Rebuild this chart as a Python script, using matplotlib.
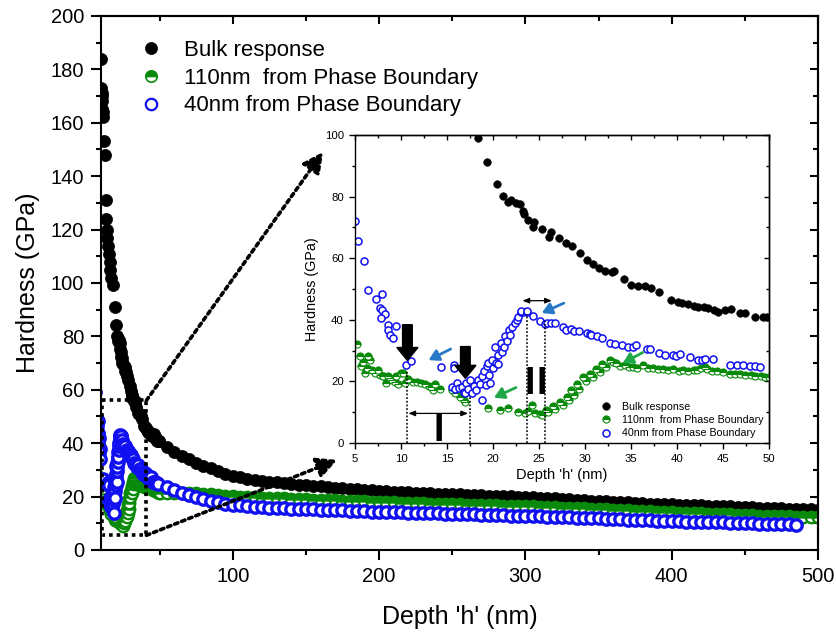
import numpy as np
import matplotlib.pyplot as plt
from matplotlib.ticker import MultipleLocator

plt.rcParams['font.family'] = ['Liberation Sans', 'DejaVu Sans']

# ---- indentation data: shallow part (also shown in the inset) ----
bulk_depth = [10.0, 10.2, 10.4, 10.6, 10.8, 11.0, 11.3, 11.6, 12.3, 12.6, 13.3, 13.7,
              14.0, 14.4, 14.8, 15.3, 15.8, 16.4, 17.0, 18.4, 19.4, 20.4, 21.1, 21.6,
              22.0, 22.5, 22.9, 23.3, 23.4, 23.8, 24.3, 24.5, 25.3, 26.1, 26.3, 27.2,
              27.9, 28.6, 29.5, 30.2, 30.9, 31.5, 32.2, 32.9, 33.2, 34.2, 35.0, 35.8,
              36.5, 37.2, 38.0, 39.4, 40.1, 40.6, 41.2, 41.8, 42.3, 42.9, 43.4, 44.0,
              44.5, 45.2, 45.9, 46.8, 47.4, 48.5, 49.3, 49.8]
bulk_hard = [184, 173, 171, 168, 170, 165, 162, 164, 153, 148, 131, 124,
             120, 117, 114, 111, 108, 105, 102, 99.1, 91.1, 84.1, 80.2, 78.4,
             78.8, 77.9, 77.6, 75.3, 74.2, 72.4, 70.2, 71.8, 69.5, 67.0, 68.4, 66.6,
             65.0, 63.8, 61.6, 59.5, 58.1, 56.8, 55.9, 55.5, 55.7, 53.4, 51.3, 51.1,
             51.1, 50.2, 49.1, 46.4, 45.9, 45.6, 45.0, 44.6, 44.3, 44.0, 43.7, 43.2,
             42.6, 43.2, 43.4, 42.1, 42.1, 40.8, 40.9, 40.8]

pb110_depth = [5.2, 5.5, 5.7, 5.9, 6.1, 6.3, 6.45, 6.6, 6.8, 7.2, 7.5, 7.7, 8.0, 8.1,
               8.4, 8.6, 8.8, 9.0, 9.3, 9.5, 9.7, 10.0, 10.25, 10.4, 10.8, 11.3, 11.7,
               12.2, 12.6, 13.0, 13.3, 13.5, 13.7, 14.2, 15.5, 15.9, 16.4, 16.8, 17.0,
               19.5, 20.8, 21.6, 22.7, 23.5, 23.8, 24.2, 24.6, 25.1, 25.3, 25.8, 26.0,
               26.5, 26.7, 27.3, 27.6, 28.0, 28.3, 28.5, 28.8, 29.1, 29.4, 29.8, 30.1,
               30.5, 30.9, 31.2, 31.6, 31.9, 32.3, 32.7, 33.0, 33.4, 33.8, 34.3, 34.8,
               35.2, 35.7, 36.3, 36.8, 37.4, 37.9, 38.5, 39.0, 39.6, 40.2, 40.7, 41.2,
               41.8, 42.2, 42.6, 43.0, 43.3, 43.8, 44.4, 45.0, 45.8, 46.3, 46.9, 47.4,
               48.0, 48.5, 49.1, 49.6, 50.0]
pb110_hard = [32.1, 28.3, 24.9, 26.4, 22.6, 24.3, 28.4, 27.0, 23.7, 22.8, 23.6, 22.0, 21.7, 21.6,
              19.4, 21.6, 21.2, 20.4, 19.9, 21.7, 19.0, 22.7, 22.6, 19.4, 20.9, 19.9, 19.9,
              19.4, 19.0, 18.6, 18.3, 17.2, 19.0, 17.4, 17.2, 16.1, 15.0, 14.0, 13.4,
              11.3, 10.7, 11.5, 10.1, 9.6, 10.4, 12.3, 9.6, 9.3, 9.0, 10.7, 10.0,
              11.9, 11.0, 13.3, 12.2, 14.9, 13.8, 17.1, 15.5, 19.2, 17.5, 21.4, 20.0,
              22.5, 21.5, 24.1, 23.0, 25.5, 24.8, 26.8, 26.2, 25.9, 25.0, 25.2, 24.8,
              24.6, 24.5, 25.2, 24.5, 24.4, 24.0, 24.1, 23.8, 24.1, 23.5, 23.6, 23.3,
              23.6, 23.8, 24.4, 24.6, 24.1, 23.5, 23.4, 22.9, 22.5, 22.3, 22.3, 22.0,
              22.0, 21.8, 21.6, 21.3, 21.4]

pb40_depth = [5.0, 5.3, 6.0, 6.45, 7.25, 7.9, 7.7, 7.9, 8.3, 7.85, 8.6, 9.5, 8.6, 8.8,
              9.1, 10.6, 11.05, 14.35, 15.76, 15.76, 15.5, 15.9, 16.05, 16.3, 16.6, 16.8,
              17.0, 17.1, 17.3, 17.5, 17.7, 17.9, 18.2, 18.4, 18.6, 18.8, 18.8, 19.0,
              19.2, 19.3, 19.5, 19.6, 19.7, 19.9, 20.0, 20.2, 20.3, 20.5, 20.6, 20.9,
              21.0, 21.2, 21.3, 21.5, 21.7, 21.9, 22.1, 22.4, 22.6, 22.75, 23.0, 23.3,
              23.1, 23.65, 23.7, 24.3, 25.1, 25.7, 25.9, 26.3, 26.7, 27.6, 27.9, 28.5,
              28.8, 29.4, 30.2, 30.5, 30.7, 31.3, 31.8, 32.7, 33.3, 34.0, 34.7, 35.2,
              35.6, 36.7, 37.1, 38.0, 38.7, 39.6, 39.9, 40.3, 41.4, 42.3, 42.7, 43.0,
              43.9, 45.8, 46.5, 47.2, 47.9, 48.5, 49.0]
pb40_hard = [72.0, 65.5, 59.1, 49.7, 46.6, 48.4, 43.7, 43.2, 41.9, 40.5, 38.3, 38.0, 36.7, 35.0,
             34.0, 25.3, 26.6, 24.6, 25.3, 24.2, 18.3, 17.5, 19.4, 18.0, 18.3, 16.6,
             16.1, 19.4, 17.5, 20.5, 16.1, 18.5, 17.2, 20.5, 19.2, 14.0, 21.6, 23.5,
             18.8, 25.0, 25.9, 22.0, 19.5, 27.0, 24.5, 31.3, 26.0, 28.5, 25.5, 32.4,
             29.5, 31.0, 34.6, 33.0, 36.7, 35.0, 37.5, 38.8, 40.0, 41.0, 42.5, 42.6,
             43.0, 42.6, 42.7, 41.1, 39.6, 38.7, 38.9, 38.9, 39.0, 37.6, 36.8, 37.0,
             36.2, 36.3, 35.6, 35.3, 35.1, 34.6, 34.0, 32.6, 32.2, 31.9, 31.0, 31.2,
             31.9, 30.4, 30.4, 29.1, 28.6, 28.6, 28.2, 28.8, 27.9, 27.0, 26.8, 27.2,
             27.2, 25.3, 25.3, 25.3, 25.0, 25.0, 24.8]

# ---- deep part, 55-500 nm ----
tail_depth = [55, 60, 65, 70, 75, 80, 85, 90, 95, 100, 105, 110, 115, 120, 125, 130, 135,
              140, 145, 150, 155, 160, 165, 170, 175, 180, 185, 190, 195, 200, 205, 210,
              215, 220, 225, 230, 235, 240, 245, 250, 255, 260, 265, 270, 275, 280, 285,
              290, 295, 300, 305, 310, 315, 320, 325, 330, 335, 340, 345, 350, 355, 360,
              365, 370, 375, 380, 385, 390, 395, 400, 405, 410, 415, 420, 425, 430, 435,
              440, 445, 450, 455, 460, 465, 470, 475, 480, 485, 490, 495, 500]
bulk_tail = [38.6, 36.7, 35.2, 33.9, 32.7, 31.6, 30.6, 29.6, 28.6, 27.8,
             27.2, 26.7, 26.3, 25.9, 25.6, 25.3, 25.0, 24.7, 24.5, 24.2,
             24.0, 23.8, 23.6, 23.4, 23.2, 23.0, 22.8, 22.6, 22.4, 22.2,
             22.0, 21.9, 21.7, 21.6, 21.5, 21.3, 21.2, 21.1, 21.0, 20.9,
             20.8, 20.7, 20.6, 20.5, 20.4, 20.3, 20.2, 20.1, 20.0, 19.9,
             19.7, 19.6, 19.4, 19.3, 19.1, 19.0, 18.8, 18.7, 18.5, 18.4,
             18.2, 18.1, 17.9, 17.8, 17.6, 17.5, 17.4, 17.3, 17.2, 17.1,
             17.0, 16.9, 16.8, 16.7, 16.6, 16.5, 16.4, 16.3, 16.2, 16.1,
             16.0, 15.9, 15.8, 15.7, 15.6, 15.5, 15.4, 15.3, 15.2, 15.1]
pb110_tail = [21.5, 21.5, 21.4, 21.3, 21.2, 21.0, 20.8, 20.6, 20.4, 20.2,
              20.0, 19.9, 19.7, 19.6, 19.5, 19.4, 19.3, 19.2, 19.1, 19.0,
              18.9, 18.8, 18.7, 18.6, 18.5, 18.4, 18.3, 18.2, 18.1, 18.0,
              17.9, 17.8, 17.7, 17.7, 17.6, 17.5, 17.4, 17.3, 17.2, 17.2,
              17.1, 17.0, 16.9, 16.9, 16.8, 16.7, 16.6, 16.6, 16.5, 16.4,
              16.3, 16.2, 16.1, 16.0, 15.9, 15.8, 15.7, 15.6, 15.5, 15.4,
              15.2, 15.1, 15.0, 14.9, 14.7, 14.6, 14.5, 14.4, 14.2, 14.1,
              14.0, 13.9, 13.8, 13.7, 13.6, 13.5, 13.4, 13.3, 13.2, 13.1,
              13.0, 12.9, 12.8, 12.8, 12.7, 12.6, 12.5, 12.5, 12.4, 12.3]
pb40_tail = [23.6, 22.5, 21.5, 20.6, 19.8, 19.1, 18.5, 17.9, 17.4, 17.0,
             16.7, 16.4, 16.2, 16.0, 15.8, 15.7, 15.6, 15.5, 15.4, 15.3,
             15.2, 15.1, 15.0, 14.9, 14.8, 14.7, 14.6, 14.5, 14.4, 14.3,
             14.2, 14.2, 14.1, 14.0, 13.9, 13.8, 13.8, 13.7, 13.6, 13.5,
             13.5, 13.4, 13.3, 13.2, 13.2, 13.1, 13.0, 12.9, 12.9, 12.8,
             12.7, 12.6, 12.5, 12.4, 12.3, 12.2, 12.1, 12.0, 11.9, 11.8,
             11.7, 11.6, 11.5, 11.4, 11.3, 11.2, 11.1, 11.0, 10.9, 10.8,
             10.7, 10.6, 10.6, 10.5, 10.4, 10.3, 10.3, 10.2, 10.1, 10.0,
             10.0, 9.9, 9.8, 9.7, 9.7, 9.6, 9.5]

labels = ["Bulk response", "110nm  from Phase Boundary", "40nm from Phase Boundary"]
GREEN = "#0a8a0a"
BLUE = "#1010f0"

series = [
    (bulk_depth + tail_depth, bulk_hard + bulk_tail),
    (pb110_depth + tail_depth, pb110_hard + pb110_tail),
    (pb40_depth + tail_depth[:len(pb40_tail)], pb40_hard + pb40_tail),
]


def draw_series(ax, big):
    s = 1.0 if big else 0.62
    (xb, yb), (xg, yg), (xo, yo) = series
    ax.plot(xb, yb, ls="none", marker="o", ms=8.7 * s, mfc="k", mec="k", mew=0.5,
            label=labels[0])
    ax.plot(xg, yg, ls="none", marker="o", ms=8.2 * s, fillstyle="top", mfc=GREEN,
            mfcalt="white", mec=GREEN, mew=(1.7 if big else 0.8), label=labels[1])
    ax.plot(xo, yo, ls="none", marker="o", ms=8.2 * s, mfc="white", mec=BLUE,
            mew=(2.4 if big else 1.1), label=labels[2])


def style_axes(ax, xmaj, xmin, ymaj, ymin, lw, size, ln, pad):
    ax.xaxis.set_major_locator(MultipleLocator(xmaj))
    ax.xaxis.set_minor_locator(MultipleLocator(xmin))
    ax.yaxis.set_major_locator(MultipleLocator(ymaj))
    ax.yaxis.set_minor_locator(MultipleLocator(ymin))
    for sp in ax.spines.values():
        sp.set_linewidth(lw)
    ax.tick_params(which="major", direction="out", length=ln, width=lw,
                   labelsize=size, pad=pad)
    ax.tick_params(which="minor", direction="out", length=ln * 0.55, width=lw)
    # mirrored ticks on the top and right, pointing inward
    top = ax.secondary_xaxis("top")
    right = ax.secondary_yaxis("right")
    top.xaxis.set_major_locator(MultipleLocator(xmaj))
    top.xaxis.set_minor_locator(MultipleLocator(xmin))
    right.yaxis.set_major_locator(MultipleLocator(ymaj))
    right.yaxis.set_minor_locator(MultipleLocator(ymin))
    for sec in (top, right):
        sec.tick_params(which="major", direction="in", length=ln * 0.85, width=lw,
                        labeltop=False, labelright=False)
        sec.tick_params(which="minor", direction="in", length=ln * 0.55, width=lw)
        for sp in sec.spines.values():
            sp.set_linewidth(lw)


fig = plt.figure(figsize=(8.37, 6.34), dpi=100)

# ---- main panel ----
ax = fig.add_axes([0.1207, 0.1325, 0.8566, 0.8423])
draw_series(ax, True)
ax.set_xlim(10, 500)
ax.set_ylim(0, 200)
style_axes(ax, 100, 50, 20, 10, 1.5, 14.5, 7, 5)
ax.set_xlabel("Depth 'h' (nm)", fontsize=18, labelpad=14)
ax.set_ylabel("Hardness (GPa)", fontsize=18, labelpad=8)
leg = ax.legend(loc="upper left", bbox_to_anchor=(0.054, 0.955), frameon=False,
                fontsize=16, handlelength=1.0, handletextpad=1.0, labelspacing=0.3,
                borderpad=0, borderaxespad=0)
leg.legend_handles[2].set_markeredgewidth(1.6)
leg.legend_handles[1].set_markeredgewidth(1.2)

# dotted box around the shallow region
box_x0, box_x1, box_y0, box_y1 = 11.0, 41.0, 5.5, 56.0
dots = (0, (1, 1.1))
ax.plot([box_x0, box_x1, box_x1, box_x0, box_x0],
        [box_y1, box_y1, box_y0, box_y0, box_y1],
        color="k", lw=2.6, ls=dots, zorder=5, clip_on=False)

# ---- inset ----
axi = fig.add_axes([0.4241, 0.3013, 0.4946, 0.4858])
draw_series(axi, False)
axi.set_xlim(5, 50)
axi.set_ylim(0, 100)
style_axes(axi, 5, 2.5, 20, 10, 1.0, 8.2, 4.5, 3.5)
axi.set_xlabel("Depth 'h' (nm)", fontsize=10.5, labelpad=3)
axi.set_ylabel("Hardness (GPa)", fontsize=10.3, labelpad=4)
axi.legend(loc="upper left", bbox_to_anchor=(0.593, 0.133), frameon=False,
           fontsize=7.7, handlelength=1.0, handletextpad=1.0, labelspacing=0.3,
           borderpad=0, borderaxespad=0)

# zoom arrows from the box to the inset
for start, end in (((box_x1, box_y1), (-0.077, 0.945)),
                   ((box_x1, box_y0), (-0.043, -0.055))):
    ax.annotate("", xy=end, xycoords=axi.transAxes, xytext=start, textcoords="data",
                arrowprops=dict(arrowstyle="-|>,head_length=0.55,head_width=0.28",
                                mutation_scale=22, lw=2.6, ls=dots, color="k",
                                fc="k", shrinkA=0, shrinkB=0), zorder=5)

# boundaries of the pop-in regions
for x, ytop in ((10.65, 23.0), (17.55, 15.5), (23.75, 42.0), (25.7, 39.5)):
    axi.plot([x, x], [0, ytop], color="k", lw=1.1, ls=(0, (1.2, 1.2)), zorder=4)

for x0, x1, y in ((10.8, 17.3, 9.6), (23.2, 26.4, 46.2)):
    axi.annotate("", xy=(x1, y), xytext=(x0, y),
                 arrowprops=dict(arrowstyle="<|-|>,head_length=0.5,head_width=0.2",
                                 lw=0.9, color="k", shrinkA=0, shrinkB=0,
                                 mutation_scale=8))

# thick markers of the pop-in events
for x, ytail, ytip in ((10.7, 38.4, 26.8), (17.0, 31.3, 21.0)):
    axi.arrow(x, ytail, 0, ytip - ytail, width=1.05, head_width=2.3, head_length=4.2,
              length_includes_head=True, fc="k", ec="k", zorder=6)

for (x0, y0, x1, y1), c in (((15.4, 30.5, 13.0, 26.9), "#2878c8"),
                            ((27.7, 45.4, 25.3, 42.2), "#2878c8"),
                            ((22.5, 18.0, 20.1, 14.7), "#20a848"),
                            ((36.3, 29.4, 34.1, 25.9), "#20a848")):
    axi.annotate("", xy=(x1, y1), xytext=(x0, y0),
                 arrowprops=dict(arrowstyle="-|>,head_length=0.6,head_width=0.35",
                                 lw=2.0, color=c, shrinkA=0, shrinkB=0,
                                 mutation_scale=10), zorder=6)

# region labels I and II
axi.text(14.15, 0.8, "I", fontsize=27, fontweight="bold", ha="center",
         va="baseline", zorder=6)
for x in (24.0, 25.3):
    axi.text(x, 15.8, "I", fontsize=27, fontweight="bold", ha="center",
             va="baseline", zorder=6)

fig.savefig("out.png", dpi=100)
